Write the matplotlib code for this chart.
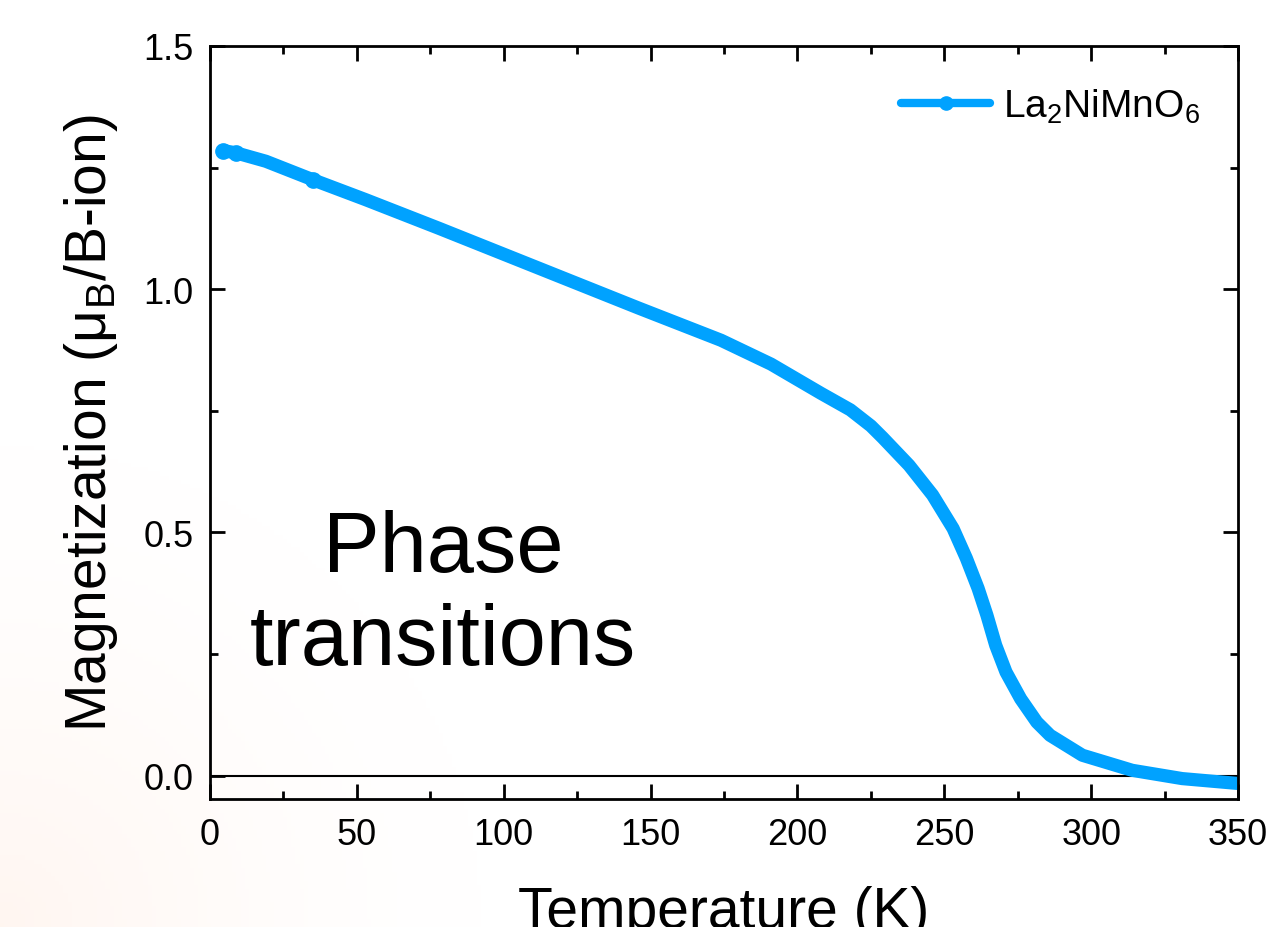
import numpy as np
import matplotlib
matplotlib.use("Agg")
import matplotlib.pyplot as plt
from matplotlib.ticker import MultipleLocator

plt.rcParams['font.family'] = ['Liberation Sans', 'DejaVu Sans']
plt.rcParams['mathtext.default'] = 'regular'

# M(T) curve
temperature = [4.5, 9, 19, 35, 53, 78, 112, 146, 174, 191, 208, 218, 225, 229,
               238, 246, 253, 257.5, 261.5, 264.5, 267.5, 271, 276, 281.5, 286,
               297, 314, 331, 350]
magnetization = [1.285, 1.280, 1.263, 1.225, 1.184, 1.125, 1.043, 0.961, 0.895,
                 0.846, 0.786, 0.752, 0.719, 0.695, 0.638, 0.577, 0.508, 0.447,
                 0.385, 0.330, 0.268, 0.213, 0.158, 0.110, 0.083, 0.042, 0.011,
                 -0.006, -0.016]
label_sample = 'La$_2$NiMnO$_6$'
blue = '#00A2FF'

fig = plt.figure(figsize=(12.66, 9.28), dpi=100)

# very faint warm glow in the lower left corner
bg = fig.add_axes([0, 0, 1, 1], zorder=-5)
gx, gy = np.meshgrid(np.linspace(0, 1266, 300), np.linspace(0, 928, 220))
r = np.sqrt(gx**2 + (gy - 928)**2) / 480.0
a = np.clip(1 - r, 0, 1) ** 1.5
img = np.ones((220, 300, 3))
img[..., 1] -= 0.035 * a
img[..., 2] -= 0.055 * a
bg.imshow(img, extent=[0, 1266, 928, 0], aspect='auto')
bg.axis('off')

ax = fig.add_axes([0.1659, 0.1379, 0.8120, 0.8115])
ax.patch.set_alpha(0)

ax.plot(temperature, magnetization, color=blue, lw=9.5, marker='o', ms=11,
        markevery=[0, 1, 3], solid_capstyle='round', solid_joinstyle='round',
        label=label_sample)
ax.axhline(0, color='black', lw=1.5, zorder=1)

ax.set_xlim(0, 350)
ax.set_ylim(-0.048, 1.5)
ax.xaxis.set_major_locator(MultipleLocator(50))
ax.xaxis.set_minor_locator(MultipleLocator(25))
ax.yaxis.set_major_locator(MultipleLocator(0.5))
ax.yaxis.set_minor_locator(MultipleLocator(0.25))
ax.yaxis.set_major_formatter(matplotlib.ticker.FormatStrFormatter('%.1f'))

for s in ax.spines.values():
    s.set_linewidth(2)
ax.tick_params(which='both', direction='in', top=True, right=True, width=2,
               labelsize=26)
ax.tick_params(which='major', length=11)
ax.tick_params(which='minor', length=5.5)
ax.tick_params(axis='y', pad=12)
ax.tick_params(axis='x', pad=13)

ax.set_xlabel('Temperature (K)', fontsize=41)
ax.xaxis.set_label_coords(0.5, -0.114)
ax.set_ylabel('Magnetization (μ$_B$/B-ion)', fontsize=41)
ax.yaxis.set_label_coords(-0.088, 0.5)

ax.text(79.3, 0.230, 'Phase\ntransitions', fontsize=61, ha='center',
        va='baseline', multialignment='center')

leg = ax.legend(loc='center left', bbox_to_anchor=(0.672, 0.920), frameon=False,
                fontsize=28, handlelength=2.3, handletextpad=0.33, borderpad=0,
                borderaxespad=0)
for h in leg.legend_handles:
    h.set_linewidth(6)
    h.set_markersize(9.5)
    h.set_markevery([1])

fig.savefig('out.png', dpi=100)
